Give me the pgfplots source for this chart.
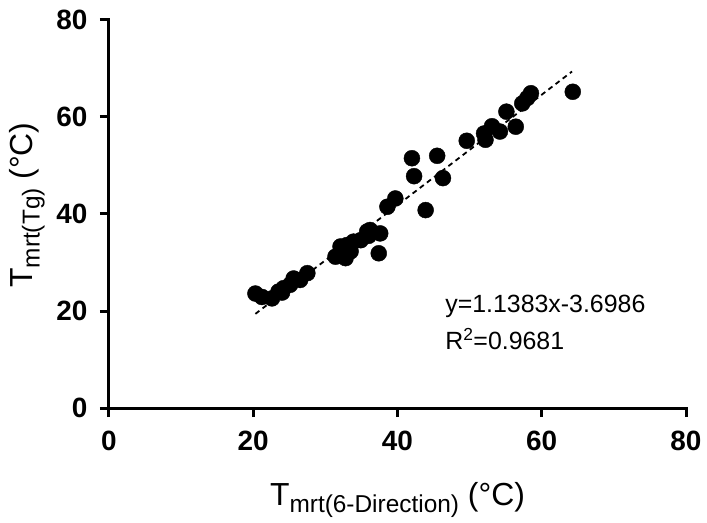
\documentclass[border=0pt]{standalone}
\usepackage{pgfplots}
\pgfplotsset{compat=1.18}
\usepackage{fontspec}
\setmainfont{Liberation Sans}

\pgfplotstableread{
x y
20.3 23.6
21.2 22.9
22.6 22.6
23.5 24.0
24.0 23.8
24.2 24.7
25.1 25.4
25.6 26.7
26.5 26.4
27.5 27.8
31.4 31.2
32.1 33.3
33.0 33.6
32.8 30.9
33.5 32.3
33.9 34.3
34.9 34.6
35.8 36.4
36.2 36.7
36.0 35.5
37.6 36.0
37.4 31.9
38.6 41.5
39.7 43.2
42.0 51.5
42.3 47.8
43.9 40.8
45.5 52.0
46.3 47.4
49.6 55.1
52.0 56.6
52.2 55.3
53.1 58.1
54.2 57.0
55.1 61.1
56.4 58.0
57.3 62.8
58.0 63.9
58.5 64.9
64.3 65.2
}\tgdata

\begin{document}
\begin{tikzpicture}
\useasboundingbox (-109bp,-115bp) rectangle (598bp,408bp);
\begin{axis}[
  scale only axis,
  width=577bp, height=388bp,
  xmin=0, xmax=80, ymin=0, ymax=80,
  axis lines=left,
  axis line style={-, line width=3bp, line cap=rect},
  xtick={0,20,...,80}, ytick={0,20,...,80},
  tick align=outside,
  major tick length=9bp,
  every tick/.style={black, line width=3bp},
  tick label style={font=\fontsize{28}{28}\selectfont\bfseries},
  xticklabel style={yshift=-11bp},
  yticklabel style={xshift=-9bp},
  /pgf/number format/assume math mode=true,
  clip=false,
  xlabel={T\raisebox{-7bp}{\fontsize{24.5}{24.5}\selectfont mrt(6-Direction)} (°C)},
  ylabel={T\raisebox{-7bp}{\fontsize{24.5}{24.5}\selectfont mrt(Tg)} (°C)},
  label style={font=\fontsize{32}{32}\selectfont},
  xlabel style={at={(axis description cs:0.5,-0.237)}, anchor=center},
  ylabel style={at={(axis description cs:-0.142,0.523)}, anchor=center},
]
\addplot[only marks, mark=*, mark size=8bp, black] table[x=x, y=y] {\tgdata};
\addplot[black, line width=1.8bp, dash pattern=on 5bp off 4bp] coordinates {(20.3,19.41) (64.2,69.38)};
\node[anchor=base west, font=\fontsize{25}{25}\selectfont, inner sep=0pt] at (axis cs:46.6,19.6) {y=1.1383x-3.6986};
\node[anchor=base west, font=\fontsize{25}{25}\selectfont, inner sep=0pt] at (axis cs:46.6,12.0) {R\textsuperscript{2}=0.9681};
\end{axis}
\end{tikzpicture}
\end{document}
